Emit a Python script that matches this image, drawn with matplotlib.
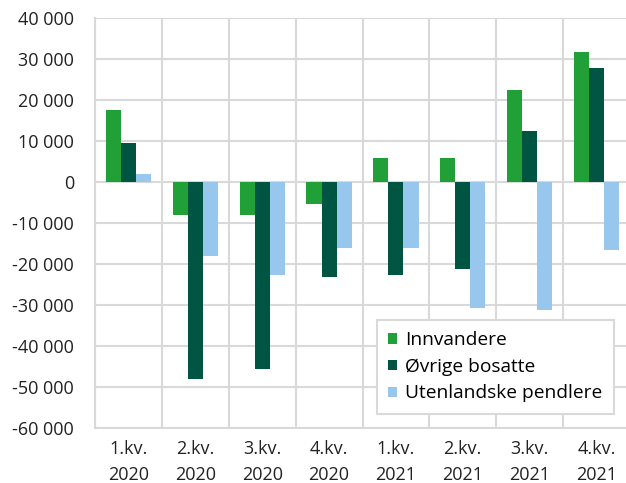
import numpy as np
import matplotlib.pyplot as plt
from matplotlib.ticker import FuncFormatter

plt.rcParams['font.family'] = ['Open Sans', 'DejaVu Sans']

categories = ["1.kv.\n2020", "2.kv.\n2020", "3.kv.\n2020", "4.kv.\n2020",
              "1.kv.\n2021", "2.kv.\n2021", "3.kv.\n2021", "4.kv.\n2021"]
innvandrere = [17500, -8100, -8100, -5400, 5800, 5800, 22300, 31600]
ovrige_bosatte = [9500, -48100, -45800, -23300, -22800, -21400, 12400, 27800]
utenlandske_pendlere = [2000, -18100, -22800, -16200, -16200, -30800, -31300, -16700]

series = [("Innvandere", innvandrere, "#21a038"),
          ("Øvrige bosatte", ovrige_bosatte, "#005442"),
          ("Utenlandske pendlere", utenlandske_pendlere, "#97c7ec")]

fig = plt.figure(figsize=(6.26, 4.83), dpi=100)
ax = fig.add_axes([95 / 626, 1 - 427.6 / 483, 535 / 626, 409.6 / 483])

x = np.arange(len(categories))
w = 0.225
for i, (name, vals, col) in enumerate(series):
    ax.bar(x + (i - 1) * w, vals, w, color=col, label=name, zorder=3)

ax.set_xlim(-0.5, len(categories) - 0.5)
ax.set_ylim(-60000, 40000)
ax.set_yticks(np.arange(-60000, 40001, 10000))
ax.yaxis.set_major_formatter(FuncFormatter(lambda v, p: f"{int(v):,}".replace(",", " ")))
ax.set_xticks(x)
ax.set_xticklabels(categories, linespacing=1.55)
ax.set_xticks(np.arange(-0.5, len(categories), 1), minor=True)

grid_col = "#d9d9d9"
ax.grid(axis="y", color=grid_col, lw=1.5, zorder=0)
ax.grid(axis="x", which="minor", color=grid_col, lw=1.5, zorder=0)
for s in ["top", "right"]:
    ax.spines[s].set_visible(False)
for s in ["left", "bottom"]:
    ax.spines[s].set_color(grid_col)
    ax.spines[s].set_linewidth(1.5)
ax.tick_params(axis="both", which="both", length=0, labelsize=13, colors="#222222")
ax.tick_params(axis="y", pad=15)
ax.tick_params(axis="x", pad=9)

leg = ax.legend(loc="lower right", bbox_to_anchor=(614 / 626, 1 - 414 / 483),
                bbox_transform=fig.transFigure, borderaxespad=0, fontsize=13.8,
                frameon=True, fancybox=False, edgecolor=grid_col, framealpha=1,
                handlelength=0.45, handleheight=0.45, handletextpad=0.45,
                borderpad=0.6, labelspacing=0.45)
leg.get_frame().set_linewidth(1.5)

fig.savefig("out.png", dpi=100)
